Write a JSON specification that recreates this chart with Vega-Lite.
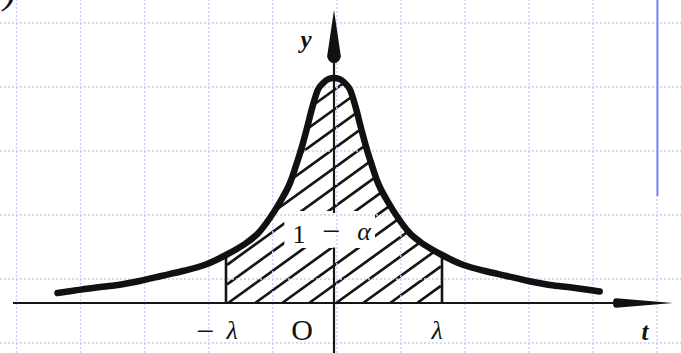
{
  "$schema": "https://vega.github.io/schema/vega-lite/v6.json",
  "width": 681,
  "height": 353,
  "autosize": {"type": "none"},
  "padding": 0,
  "background": "white",
  "config": {"view": {"stroke": null}},
  "datasets": {
    "curve": [
      {"t": -2.56, "y": 0.10}, {"t": -2.4, "y": 0.125}, {"t": -2.2, "y": 0.155}, {"t": -2.0, "y": 0.18},
      {"t": -1.8, "y": 0.22}, {"t": -1.6, "y": 0.27}, {"t": -1.4, "y": 0.32}, {"t": -1.2, "y": 0.38},
      {"t": -1.0, "y": 0.48}, {"t": -0.9, "y": 0.54}, {"t": -0.8, "y": 0.61}, {"t": -0.7, "y": 0.70},
      {"t": -0.6, "y": 0.84}, {"t": -0.5, "y": 1.01}, {"t": -0.4, "y": 1.22}, {"t": -0.35, "y": 1.38},
      {"t": -0.3, "y": 1.55}, {"t": -0.25, "y": 1.75}, {"t": -0.2, "y": 1.96}, {"t": -0.15, "y": 2.13},
      {"t": -0.1, "y": 2.20}, {"t": -0.05, "y": 2.24}, {"t": 0, "y": 2.25},
      {"t": 0.05, "y": 2.24}, {"t": 0.1, "y": 2.20}, {"t": 0.15, "y": 2.13}, {"t": 0.2, "y": 1.96},
      {"t": 0.25, "y": 1.75}, {"t": 0.3, "y": 1.55}, {"t": 0.35, "y": 1.38}, {"t": 0.4, "y": 1.22},
      {"t": 0.5, "y": 1.01}, {"t": 0.6, "y": 0.84}, {"t": 0.7, "y": 0.70}, {"t": 0.8, "y": 0.61},
      {"t": 0.9, "y": 0.54}, {"t": 1.0, "y": 0.48}, {"t": 1.2, "y": 0.38}, {"t": 1.4, "y": 0.32},
      {"t": 1.6, "y": 0.27}, {"t": 1.8, "y": 0.22}, {"t": 2.0, "y": 0.18}, {"t": 2.2, "y": 0.155},
      {"t": 2.4, "y": 0.125}, {"t": 2.46, "y": 0.115}
    ],
    "hatch": [
      {"t": -0.99, "y": 1.357, "t2": 0.7315, "y2": 2.7},
      {"t": -0.99, "y": 1.162, "t2": 0.9815, "y2": 2.7},
      {"t": -0.99, "y": 0.967, "t2": 0.99, "y2": 2.512},
      {"t": -0.99, "y": 0.772, "t2": 0.99, "y2": 2.317},
      {"t": -0.99, "y": 0.577, "t2": 0.99, "y2": 2.122},
      {"t": -0.99, "y": 0.382, "t2": 0.99, "y2": 1.927},
      {"t": -0.99, "y": 0.187, "t2": 0.99, "y2": 1.732},
      {"t": -0.98, "y": 0, "t2": 0.99, "y2": 1.537},
      {"t": -0.73, "y": 0, "t2": 0.99, "y2": 1.342},
      {"t": -0.48, "y": 0, "t2": 0.99, "y2": 1.147},
      {"t": -0.23, "y": 0, "t2": 0.99, "y2": 0.952},
      {"t": 0.02, "y": 0, "t2": 0.99, "y2": 0.757},
      {"t": 0.27, "y": 0, "t2": 0.99, "y2": 0.562},
      {"t": 0.52, "y": 0, "t2": 0.99, "y2": 0.367},
      {"t": 0.77, "y": 0, "t2": 0.99, "y2": 0.172}
    ],
    "gap": [{"t": -0.46, "t2": 0.38, "y": 0.55, "y2": 0.92}],
    "gridV": [
      {"t": -2.940, "y": -0.5, "y2": 3.03}, {"t": -2.347, "y": -0.5, "y2": 3.03},
      {"t": -1.754, "y": -0.5, "y2": 3.03}, {"t": -1.160, "y": -0.5, "y2": 3.03},
      {"t": -0.568, "y": -0.5, "y2": 3.03}, {"t": 0.026, "y": -0.5, "y2": 3.03},
      {"t": 0.619, "y": -0.5, "y2": 3.03}, {"t": 1.212, "y": -0.5, "y2": 3.03},
      {"t": 1.805, "y": -0.5, "y2": 3.03}, {"t": 2.398, "y": -0.5, "y2": 3.03},
      {"t": 2.991, "y": -0.5, "y2": 3.03}
    ],
    "gridH": [
      {"t": -3.0926, "t2": 3.213, "y": 2.80}, {"t": -3.0926, "t2": 3.213, "y": 2.16},
      {"t": -3.0926, "t2": 3.213, "y": 1.52}, {"t": -3.0926, "t2": 3.213, "y": 0.88},
      {"t": -3.0926, "t2": 3.213, "y": 0.24}, {"t": -3.0926, "t2": 3.213, "y": -0.40}
    ],
    "edge": [{"t": 2.995, "y": 1.07, "y2": 3.03}],
    "axes": [
      {"t": -2.972, "t2": 2.62, "y": 0, "y2": 0},
      {"t": 0, "t2": 0, "y": -0.5, "y2": 0.555},
      {"t": 0, "t2": 0, "y": 0.90, "y2": 2.42}
    ],
    "bounds": [
      {"t": -1, "y": 0, "y2": 0.48},
      {"t": 1, "y": 0, "y2": 0.48}
    ],
    "arrowT": [{"t": 2.861, "y": 0}],
    "arrowY": [{"t": 0, "y": 2.665}],
    "axisNames": [
      {"txt": "y", "t": -0.259, "y": 2.555},
      {"txt": "t", "t": 2.88, "y": -0.37}
    ],
    "ticks": [
      {"txt": "λ", "t": -0.944, "y": -0.36},
      {"txt": "λ", "t": 0.954, "y": -0.36}
    ],
    "minus": [
      {"txt": "−", "t": -1.194, "y": -0.385},
      {"txt": "−", "t": -0.028, "y": 0.61}
    ],
    "one": [{"txt": "1", "t": -0.324, "y": 0.60}],
    "origin": [{"txt": "O", "t": -0.296, "y": -0.37}],
    "alpha": [{"txt": "α", "t": 0.278, "y": 0.63}],
    "corner": [{"txt": ")", "t": -3.0, "y": 3.0}]
  },
  "encoding": {
    "x": {"field": "t", "type": "quantitative", "scale": {"domain": [-3.0926, 3.213], "nice": false, "zero": false}, "axis": null},
    "y": {"field": "y", "type": "quantitative", "scale": {"domain": [-0.5, 3.03], "nice": false, "zero": false}, "axis": null}
  },
  "layer": [
    {
      "data": {"name": "hatch"},
      "mark": {"type": "rule", "color": "#151515", "strokeWidth": 2.7},
      "encoding": {"x2": {"field": "t2"}, "y2": {"field": "y2"}}
    },
    {
      "data": {"name": "curve"},
      "transform": [{"filter": "datum.t >= -1 && datum.t <= 1"}],
      "mark": {"type": "area", "color": "white", "opacity": 1, "interpolate": "monotone", "orient": "vertical"},
      "encoding": {"y2": {"datum": 2.8}}
    },
    {
      "data": {"name": "gap"},
      "mark": {"type": "rect", "color": "white", "opacity": 1},
      "encoding": {"x2": {"field": "t2"}, "y2": {"field": "y2"}}
    },
    {
      "data": {"name": "gridV"},
      "mark": {"type": "rule", "color": "#c3cff3", "strokeWidth": 1.3, "strokeDash": [2, 2]},
      "encoding": {"y2": {"field": "y2"}}
    },
    {
      "data": {"name": "gridH"},
      "mark": {"type": "rule", "color": "#c3cff3", "strokeWidth": 1.3, "strokeDash": [2, 2]},
      "encoding": {"x2": {"field": "t2"}}
    },
    {
      "data": {"name": "edge"},
      "mark": {"type": "rule", "color": "#7088ee", "strokeWidth": 2},
      "encoding": {"y2": {"field": "y2"}}
    },
    {
      "data": {"name": "axes"},
      "mark": {"type": "rule", "color": "#151515", "strokeWidth": 2.2},
      "encoding": {"x2": {"field": "t2"}, "y2": {"field": "y2"}}
    },
    {
      "data": {"name": "bounds"},
      "mark": {"type": "rule", "color": "#151515", "strokeWidth": 2.6},
      "encoding": {"y2": {"field": "y2"}}
    },
    {
      "data": {"name": "curve"},
      "mark": {"type": "line", "color": "#111111", "strokeWidth": 6.5, "interpolate": "monotone", "strokeCap": "round", "strokeJoin": "round"}
    },
    {
      "data": {"name": "arrowT"},
      "mark": {"type": "point", "filled": true, "opacity": 1, "color": "#111111", "strokeWidth": 0, "size": 3600,
               "shape": "M1,0 L-0.9,-0.16 Q-1,-0.16 -1,0 Q-1,0.16 -0.9,0.16 Z"}
    },
    {
      "data": {"name": "arrowY"},
      "mark": {"type": "point", "filled": true, "opacity": 1, "color": "#111111", "strokeWidth": 0, "size": 2809,
               "shape": "M0,-1 L0.26,0.75 Q0.2,1 0,1 Q-0.2,1 -0.26,0.75 Z"}
    },
    {
      "data": {"name": "axisNames"},
      "mark": {"type": "text", "font": "Liberation Serif", "fontSize": 25, "fontStyle": "italic", "fontWeight": "bold", "color": "#111111", "align": "center", "baseline": "alphabetic"},
      "encoding": {"text": {"field": "txt"}}
    },
    {
      "data": {"name": "ticks"},
      "mark": {"type": "text", "font": "Liberation Serif", "fontSize": 26, "fontStyle": "italic", "color": "#111111", "align": "center", "baseline": "alphabetic"},
      "encoding": {"text": {"field": "txt"}}
    },
    {
      "data": {"name": "minus"},
      "mark": {"type": "text", "font": "Liberation Serif", "fontSize": 32, "color": "#111111", "align": "center", "baseline": "alphabetic"},
      "encoding": {"text": {"field": "txt"}}
    },
    {
      "data": {"name": "one"},
      "mark": {"type": "text", "font": "Liberation Serif", "fontSize": 26, "color": "#111111", "align": "center", "baseline": "alphabetic"},
      "encoding": {"text": {"field": "txt"}}
    },
    {
      "data": {"name": "origin"},
      "mark": {"type": "text", "font": "Liberation Serif", "fontSize": 30, "color": "#111111", "align": "center", "baseline": "alphabetic"},
      "encoding": {"text": {"field": "txt"}}
    },
    {
      "data": {"name": "alpha"},
      "mark": {"type": "text", "font": "Liberation Serif", "fontSize": 26, "fontStyle": "italic", "color": "#111111", "align": "center", "baseline": "alphabetic"},
      "encoding": {"text": {"field": "txt"}}
    },
    {
      "data": {"name": "corner"},
      "mark": {"type": "text", "font": "Liberation Serif", "fontSize": 40, "fontStyle": "italic", "color": "#111111", "align": "center", "baseline": "alphabetic"},
      "encoding": {"text": {"field": "txt"}}
    }
  ]
}
